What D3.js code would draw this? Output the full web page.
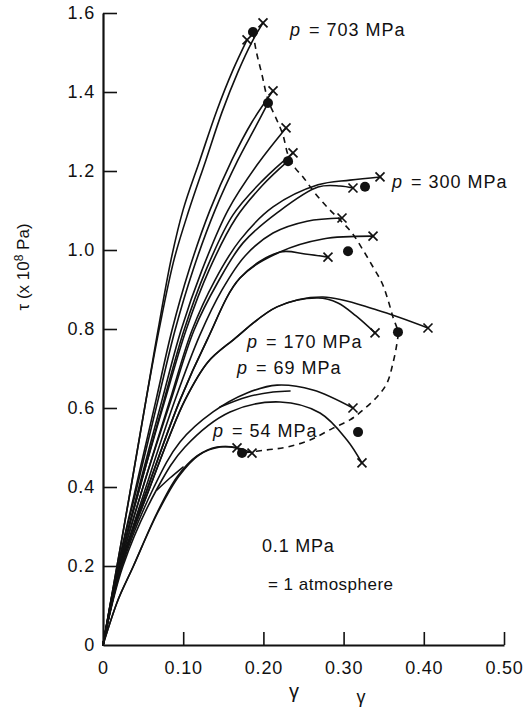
<!DOCTYPE html>
<html><head><meta charset="utf-8">
<script src="https://cdn.jsdelivr.net/npm/d3@7"></script>
<style>
html,body{margin:0;padding:0;background:#fff;}
svg{display:block;}
text{font-family:"Liberation Sans",Arial,Helvetica,sans-serif;fill:#111;}
</style></head><body>
<svg id="chart" width="524" height="708"></svg>
<script>
// ---------- data (gamma, tau x1e8 Pa) ----------
const xTicks = [0, 0.1, 0.2, 0.3, 0.4, 0.5];
const xTickLabels = ["0", "0.10", "0.20", "0.30", "0.40", "0.50"];
const yTicks = [0, 0.2, 0.4, 0.6, 0.8, 1.0, 1.2, 1.4, 1.6];
const yTickLabels = ["0", "0.2", "0.4", "0.6", "0.8", "1.0", "1.2", "1.4", "1.6"];

const c703a = [[0,0],[0.0175,0.200],[0.0349,0.400],[0.0536,0.620],[0.0686,0.797],[0.0848,0.975],[0.0998,1.101],[0.1209,1.228],[0.1421,1.354],[0.1621,1.456],[0.1796,1.532]];
const c703b = [[0,0],[0.0175,0.200],[0.0349,0.400],[0.0536,0.620],[0.0698,0.797],[0.0885,0.975],[0.1072,1.101],[0.1284,1.228],[0.1484,1.349],[0.1683,1.451],[0.1858,1.527],[0.1995,1.575]];
const cHighA = [[0,0],[0.0187,0.200],[0.0411,0.400],[0.0661,0.620],[0.0860,0.797],[0.1072,0.949],[0.1334,1.101],[0.1608,1.228],[0.1858,1.324],[0.2120,1.403]];
const cHighB = [[0,0],[0.0187,0.200],[0.0424,0.400],[0.0686,0.620],[0.0898,0.797],[0.1122,0.949],[0.1397,1.101],[0.1683,1.228],[0.1895,1.309],[0.2057,1.372]];
const cMidA = [[0,0],[0.0200,0.200],[0.0449,0.400],[0.0736,0.620],[0.0973,0.797],[0.1234,0.949],[0.1559,1.101],[0.1920,1.215],[0.2282,1.309]];
const cMidB = [[0,0],[0.0200,0.200],[0.0461,0.400],[0.0761,0.620],[0.1010,0.797],[0.1284,0.949],[0.1621,1.089],[0.1995,1.177],[0.2369,1.246]];
const cMidC = [[0,0],[0.0200,0.200],[0.0461,0.400],[0.0773,0.620],[0.1035,0.797],[0.1322,0.949],[0.1658,1.081],[0.1995,1.165],[0.2294,1.223]];
const c300a = [[0,0],[0.0212,0.200],[0.0499,0.400],[0.0835,0.620],[0.1110,0.797],[0.1397,0.924],[0.1708,1.025],[0.2120,1.109],[0.2681,1.165],[0.3080,1.177],[0.3454,1.185]];
const c300b = [[0,0],[0.0212,0.200],[0.0499,0.400],[0.0848,0.620],[0.1135,0.797],[0.1434,0.919],[0.1746,1.018],[0.2170,1.094],[0.2681,1.1595],[0.2955,1.162],[0.3117,1.157]];
const cLowA = [[0,0],[0.0224,0.200],[0.0536,0.400],[0.0898,0.620],[0.1209,0.785],[0.1484,0.899],[0.1771,0.985],[0.2120,1.043],[0.2544,1.073],[0.2980,1.081]];
const cLowB = [[0,0],[0.0224,0.200],[0.0561,0.400],[0.0960,0.620],[0.1297,0.772],[0.1708,0.929],[0.2207,0.995],[0.2743,1.028],[0.3367,1.035]];
const cLowC = [[0,0],[0.0224,0.200],[0.0561,0.400],[0.0960,0.620],[0.1297,0.772],[0.1708,0.929],[0.2207,0.995],[0.2519,0.990],[0.2805,0.982]];
const c170a = [[0,0],[0.0224,0.200],[0.0586,0.400],[0.0810,0.519],[0.1022,0.620],[0.1309,0.7165],[0.1621,0.772],[0.2170,0.856],[0.2743,0.881],[0.3416,0.848],[0.4052,0.8025]];
const c170b = [[0,0],[0.0224,0.200],[0.0586,0.400],[0.0810,0.519],[0.1022,0.620],[0.1309,0.7165],[0.1621,0.772],[0.2170,0.856],[0.2681,0.8785],[0.2930,0.866],[0.3155,0.833],[0.3392,0.790]];
const c69a = [[0,0],[0.0237,0.200],[0.0636,0.400],[0.0960,0.514],[0.1372,0.590],[0.1796,0.638],[0.2170,0.658],[0.2618,0.6456],[0.3117,0.600]];
const c69b = [[0.1459,0.6025],[0.1796,0.628],[0.2120,0.6405],[0.2332,0.643]];
const c54a = [[0,0],[0.0249,0.200],[0.0686,0.400],[0.1022,0.5013],[0.1584,0.590],[0.2207,0.6152],[0.2706,0.5873],[0.3042,0.519],[0.3229,0.4608]];
const c01a = [[0,0],[0.0187,0.1139],[0.0374,0.1975],[0.0673,0.3342],[0.0923,0.4253],[0.1172,0.4785],[0.1421,0.5013],[0.1671,0.4987]];
const c01b = [[0,0],[0.0187,0.1139],[0.0374,0.1975],[0.0686,0.3367],[0.0948,0.4278],[0.1197,0.4810],[0.1459,0.5013],[0.1683,0.4987],[0.1858,0.4861]];
const c01c = [[0.0673,0.3924],[0.0835,0.4228],[0.0998,0.4506]];

const fractureGamma = [0.1796,0.1995,0.2120,0.2282,0.2369,0.3454,0.3117,0.2980,0.3367,0.2805,0.3392,0.4052,0.3117,0.3229,0.1671,0.1858];
const fractureTau   = [1.532,1.575,1.403,1.309,1.246,1.185,1.157,1.081,1.035,0.982,0.790,0.8025,0.600,0.461,0.499,0.486];

const meanGamma = [0.1870,0.2057,0.2307,0.3267,0.3055,0.3678,0.3180,0.1733];
const meanTau   = [1.552,1.372,1.225,1.160,0.997,0.792,0.539,0.486];

const envelopeGamma = [0.1870,0.1908,0.1983,0.2057,0.2157,0.2244,0.2307,0.2394,0.2494,0.2643,0.2793,0.2955,0.3105,0.3242,0.3367,0.3479,0.3554,0.3616,0.3678,0.3666,0.3616,0.3541,0.3416,0.3242,0.3080,0.2868,0.2581,0.2294,0.2045,0.1733];
const envelopeTau   = [1.552,1.506,1.443,1.380,1.334,1.291,1.241,1.208,1.185,1.144,1.109,1.076,1.043,1.000,0.957,0.9165,0.873,0.830,0.792,0.765,0.714,0.663,0.628,0.595,0.570,0.549,0.519,0.501,0.494,0.486];

const pressureLabels = ["703", "300", "170", "69", "54"];
const pressureAnchorGamma = [0.2332, 0.3603, 0.1796, 0.1671, 0.1372];
const pressureAnchorTau   = [1.542, 1.157, 0.752, 0.686, 0.527];

// ---------- drawing ----------
const svg = d3.select("#chart");
const x = d3.scaleLinear().domain([0, 0.5]).range([103, 504]);
const y = d3.scaleLinear().domain([0, 1.6]).range([645, 13]);
const ink = "#111";

const curves = [c703a,c703b,cHighA,cHighB,cMidA,cMidB,cMidC,c300a,c300b,cLowA,cLowB,cLowC,c170a,c170b,c69a,c69b,c54a,c01a,c01b,c01c];
const line = d3.line().x(d => x(d[0])).y(d => y(d[1])).curve(d3.curveCatmullRom.alpha(0.5));

svg.append("g").selectAll("path").data(curves).join("path")
  .attr("d", line).attr("fill", "none").attr("stroke", ink)
  .attr("stroke-width", 1.6).attr("stroke-linecap", "round").attr("stroke-linejoin", "round");

const envelope = envelopeGamma.map((g, i) => [g, envelopeTau[i]]);
svg.append("path").attr("d", line(envelope)).attr("fill", "none").attr("stroke", ink)
  .attr("stroke-width", 1.6).attr("stroke-dasharray", "6,5");

// fracture crosses
const xs = svg.append("g").attr("stroke", ink).attr("stroke-width", 1.7);
fractureGamma.forEach((g, i) => {
  const cx = x(g), cy = y(fractureTau[i]), s = 4.5;
  xs.append("line").attr("x1", cx - s).attr("y1", cy - s).attr("x2", cx + s).attr("y2", cy + s);
  xs.append("line").attr("x1", cx - s).attr("y1", cy + s).attr("x2", cx + s).attr("y2", cy - s);
});

// mean dots
svg.append("g").selectAll("circle").data(meanGamma).join("circle")
  .attr("cx", d => x(d)).attr("cy", (d, i) => y(meanTau[i])).attr("r", 5).attr("fill", ink);

// axes
const yAxis = d3.axisLeft(y).tickValues(yTicks).tickFormat((d, i) => yTickLabels[i])
  .tickSizeInner(-14).tickSizeOuter(0).tickPadding(8);
const gy = svg.append("g").attr("transform", "translate(103,0)").call(yAxis);
const xAxis = d3.axisBottom(x).tickValues(xTicks).tickFormat((d, i) => xTickLabels[i])
  .tickSizeInner(-13).tickSizeOuter(0).tickPadding(16);
const gx = svg.append("g").attr("transform", "translate(0,645)").call(xAxis);
[gx, gy].forEach(g => {
  g.select(".domain").attr("stroke", ink).attr("stroke-width", 2.2);
  g.selectAll(".tick line").attr("stroke", ink).attr("stroke-width", 1.6);
  g.selectAll(".tick text").attr("fill", ink).style("font-size", "18px")
    .style("letter-spacing", "0.8px").style("font-family", '"Liberation Sans", Arial, sans-serif');
});
gx.selectAll(".tick line").filter(d => d === 0).remove();
gy.selectAll(".tick line").filter(d => d === 0).remove();
gx.selectAll(".tick text").attr("dy", "0.71em").attr("y", 16);

// pressure labels
pressureLabels.forEach((p, i) => {
  const t = svg.append("text").attr("x", x(pressureAnchorGamma[i])).attr("y", y(pressureAnchorTau[i]))
    .style("font-size", "18px").style("letter-spacing", "1px");
  t.append("tspan").attr("font-style", "italic").text("p");
  t.append("tspan").attr("dx", 8).text("= " + p + " MPa");
});
svg.append("text").attr("x", x(0.1983)).attr("y", y(0.2354)).style("font-size", "18px").style("letter-spacing", "0.8px").text("0.1 MPa");
svg.append("text").attr("x", x(0.2057)).attr("y", y(0.139)).style("font-size", "17px").style("letter-spacing", "0.5px").text("= 1 atmosphere");

// axis titles
const yt = svg.append("text").attr("transform", "translate(29,267) rotate(-90)")
  .attr("text-anchor", "middle").style("font-size", "17px");
yt.append("tspan").text("τ  (x 10");
yt.append("tspan").attr("dy", -6).style("font-size", "12px").text("8");
yt.append("tspan").attr("dy", 6).text(" Pa)");
svg.append("text").attr("x", 294).attr("y", 698).attr("text-anchor", "middle").style("font-size", "20px").text("γ");
svg.append("text").attr("x", 361).attr("y", 703).attr("text-anchor", "middle").style("font-size", "18px").text("γ");
</script></body></html>
